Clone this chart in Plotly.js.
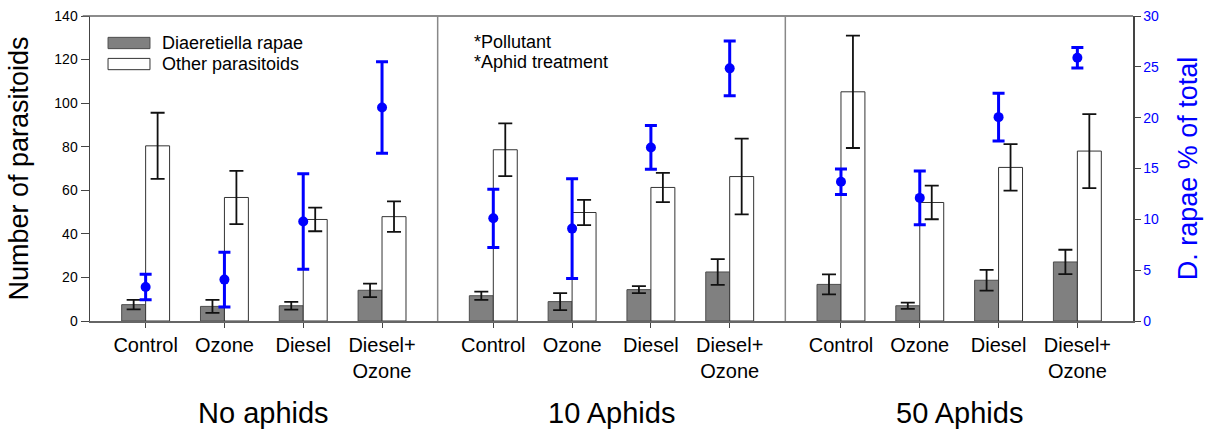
<!DOCTYPE html>
<html>
<head>
<meta charset="utf-8">
<script src="https://cdn.plot.ly/plotly-3.0.1.min.js"></script>
<style>html,body{margin:0;padding:0;background:#fff;}#chart{width:1213px;height:436px;}</style>
</head>
<body>
<div id="chart"></div>
<script>
// ---- data ----
const groups = ["No aphids", "10 Aphids", "50 Aphids"];
const treatments = ["Control", "Ozone", "Diesel", "Diesel+<br>Ozone"];

// Diaeretiella rapae (number of parasitoids), per group, per treatment
const rapaeMean = [7.5, 6.7, 7.0, 14.1,   11.6, 8.9, 14.4, 22.5,   16.8, 7.0, 18.7, 27.1];
const rapaeErr  = [2.2, 3.0, 1.8, 3.1,    1.9, 3.9, 1.6, 5.9,      4.6, 1.4, 4.8, 5.6];

// Other parasitoids
const otherMean = [80.4, 56.7, 46.6, 47.9,   78.6, 49.8, 61.3, 66.3,   105.2, 54.4, 70.5, 78.0];
const otherErr  = [15.2, 12.2, 5.4, 7.0,     12.1, 5.8, 6.7, 17.4,     25.8, 7.7, 10.7, 17.0];

// D. rapae % of total (right axis)
const pctMean = [3.35, 4.07, 9.78, 21.0,   10.1, 9.09, 17.07, 24.85,   13.69, 12.11, 20.05, 25.89];
const pctErr  = [1.25, 2.7, 4.7, 4.5,      2.87, 4.9, 2.15, 2.7,       1.25, 2.65, 2.35, 1.0];

// ---- layout geometry (category positions on a numeric axis) ----
const GW = 4.412, M = 0.706;
const xs = [], tickText = [];
groups.forEach((g, gi) => treatments.forEach((t, ti) => { xs.push(gi * GW + M + ti); tickText.push(t); }));

const FONT = "Liberation Sans, Arial, sans-serif";

const traces = [
  {
    type: "bar", name: "Diaeretiella rapae", x: xs, y: rapaeMean,
    marker: {color: "#808080", line: {color: "#4d4d4d", width: 1}},
    error_y: {type: "data", array: rapaeErr, visible: true, color: "#111", thickness: 1.8, width: 7},
    showlegend: false, hoverinfo: "y"
  },
  {
    type: "bar", name: "Other parasitoids", x: xs, y: otherMean,
    marker: {color: "#ffffff", line: {color: "#333", width: 1}},
    error_y: {type: "data", array: otherErr, visible: true, color: "#111", thickness: 1.8, width: 7},
    showlegend: false, hoverinfo: "y"
  },
  {
    type: "scatter", mode: "markers", name: "D. rapae % of total", x: xs, y: pctMean, yaxis: "y2",
    marker: {color: "#0000ff", size: 10},
    error_y: {type: "data", array: pctErr, visible: true, color: "#0000ff", thickness: 3, width: 6},
    showlegend: false
  }
];

const shapes = [
  // top border
  {type: "line", xref: "paper", yref: "paper", x0: -0.007, x1: 1, y0: 1, y1: 1, line: {color: "#666", width: 1.5}},
  // group separators
  {type: "line", xref: "x", yref: "paper", x0: GW, x1: GW, y0: 0, y1: 1, line: {color: "#888", width: 1.5}},
  {type: "line", xref: "x", yref: "paper", x0: 2 * GW, x1: 2 * GW, y0: 0, y1: 1, line: {color: "#888", width: 1.5}},
  // legend swatches
  {type: "rect", xref: "paper", yref: "paper", x0: 0.0173, x1: 0.0575, y0: 0.893, y1: 0.930, fillcolor: "#808080", line: {color: "#4d4d4d", width: 1}},
  {type: "rect", xref: "paper", yref: "paper", x0: 0.0173, x1: 0.0575, y0: 0.824, y1: 0.861, fillcolor: "#ffffff", line: {color: "#333", width: 1}}
];

const annotations = [
  {xref: "paper", yref: "paper", x: 0.0671, y: 0.911, text: "Diaeretiella rapae", showarrow: false, xanchor: "left", yanchor: "middle", font: {family: FONT, size: 18, color: "#000"}},
  {xref: "paper", yref: "paper", x: 0.0671, y: 0.842, text: "Other parasitoids", showarrow: false, xanchor: "left", yanchor: "middle", font: {family: FONT, size: 18, color: "#000"}},
  {xref: "paper", yref: "paper", x: 0.366, y: 0.915, text: "*Pollutant", showarrow: false, xanchor: "left", yanchor: "middle", font: {family: FONT, size: 18, color: "#000"}},
  {xref: "paper", yref: "paper", x: 0.366, y: 0.849, text: "*Aphid treatment", showarrow: false, xanchor: "left", yanchor: "middle", font: {family: FONT, size: 18, color: "#000"}}
];
groups.forEach((g, gi) => annotations.push({
  xref: "x", yref: "paper", x: gi * GW + GW / 2, y: -0.30, text: g, showarrow: false,
  xanchor: "center", yanchor: "middle", font: {family: FONT, size: 29, color: "#000"}
}));

const layout = {
  width: 1213, height: 436,
  margin: {l: 90, r: 80, t: 16, b: 115},
  paper_bgcolor: "#fff", plot_bgcolor: "#fff",
  font: {family: FONT, color: "#000"},
  barmode: "group", bargap: 0.392, bargroupgap: 0,
  xaxis: {
    range: [0, 3 * GW], tickmode: "array", tickvals: xs, ticktext: tickText,
    ticks: "outside", ticklen: 5, tickcolor: "#444", showgrid: false, zeroline: false,
    showline: true, linecolor: "#666", linewidth: 1.5,
    tickfont: {family: FONT, size: 20, color: "#000"}
  },
  yaxis: {
    range: [0, 140], dtick: 20, ticks: "outside", ticklen: 8, tickcolor: "#444",
    showgrid: false, zeroline: false, showline: true, linecolor: "#444", linewidth: 1.5,
    tickfont: {family: FONT, size: 14, color: "#000"},
    title: {text: "Number of parasitoids", font: {family: FONT, size: 27, color: "#000"}, standoff: 18}
  },
  yaxis2: {
    range: [0, 30], dtick: 5, overlaying: "y", side: "right",
    ticks: "outside", ticklen: 6, tickcolor: "#444",
    showgrid: false, zeroline: false, showline: true, linecolor: "#444", linewidth: 1.5,
    tickfont: {family: FONT, size: 14, color: "#0000ff"},
    title: {text: "D. rapae % of total", font: {family: FONT, size: 27, color: "#0000ff"}, standoff: 20}
  },
  shapes: shapes,
  annotations: annotations,
  showlegend: false
};

Plotly.newPlot("chart", traces, layout, {displayModeBar: false, staticPlot: true});
</script>
</body>
</html>
